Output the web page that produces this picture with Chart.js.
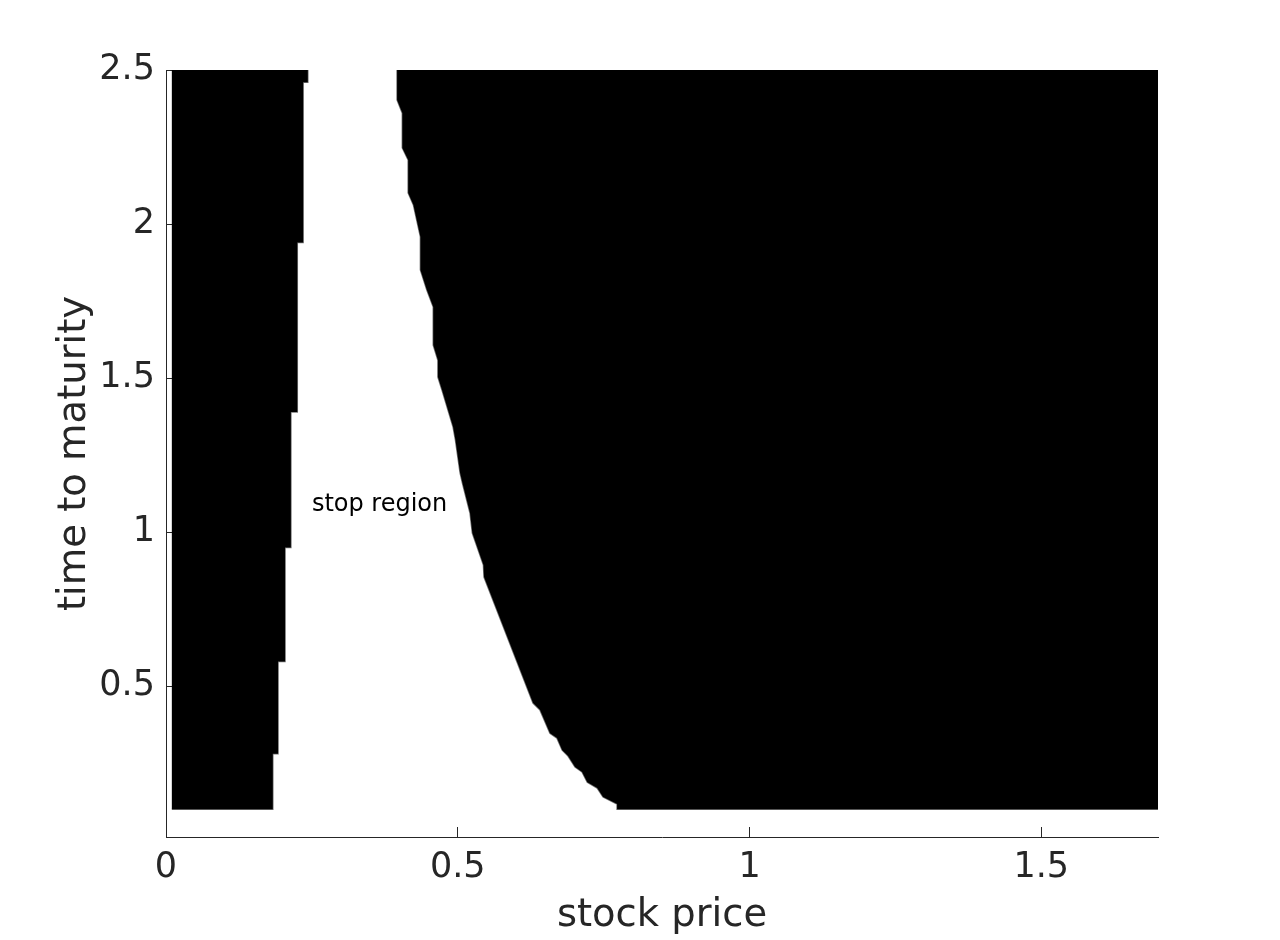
<!DOCTYPE html>
<html>
<head>
<meta charset="utf-8">
<title>Stop region</title>
<script src="https://cdn.jsdelivr.net/npm/chart.js@4/dist/chart.umd.min.js"></script>
<style>
    html, body { margin: 0; padding: 0; background: #fff; }
    #wrap { width: 1280px; height: 940px; }
</style>
</head>
<body>
<div id="wrap"><canvas id="stopChart" width="1280" height="940"></canvas></div>
<script>
// extent of the computed grid (stock price / time to maturity)
const gridS = [0.01, 1.7];
const gridT = [0.1, 2.5];

// lower edge of the stop region, bottom -> top
const leftEdgeT = [0.1, 0.28, 0.28, 0.58, 0.58, 0.95, 0.95, 1.39, 1.39, 1.94, 1.94, 2.46, 2.46, 2.5];
const leftEdgeS = [0.183, 0.183, 0.192, 0.192, 0.204, 0.204, 0.214, 0.214, 0.225, 0.225, 0.235, 0.235, 0.243, 0.243];

// upper edge of the stop region, top -> bottom
const rightEdgeT = [2.5, 2.403, 2.36, 2.247, 2.208, 2.101, 2.062, 1.958, 1.851, 1.786,
    1.731, 1.607, 1.558, 1.503, 1.461, 1.341, 1.299, 1.192, 1.159, 1.062,
    0.997, 0.893, 0.854, 0.445, 0.422, 0.347, 0.331, 0.292, 0.273, 0.237,
    0.221, 0.188, 0.169, 0.14, 0.117, 0.1];
const rightEdgeS = [0.396, 0.396, 0.405, 0.405, 0.415, 0.415, 0.424, 0.436, 0.436, 0.447,
    0.458, 0.458, 0.466, 0.466, 0.473, 0.492, 0.496, 0.504, 0.508, 0.521,
    0.525, 0.544, 0.545, 0.629, 0.641, 0.658, 0.670, 0.679, 0.689, 0.701,
    0.713, 0.722, 0.739, 0.749, 0.773, 0.773];

// axes
const xTicks = [0, 0.5, 1, 1.5];
const xTickLabels = ['0', '0.5', '1', '1.5'];
const yTicks = [0.5, 1, 1.5, 2, 2.5];
const yTickLabels = ['0.5', '1', '1.5', '2', '2.5'];
const xRange = [0, 1.7];
const yRange = [0.01, 2.5];

const regionLabel = 'stop region';
const regionLabelAt = [0.25, 1.09];

document.addEventListener('DOMContentLoaded', function() {
    const axisColor = '#262626';
    const fontFamily = '"DejaVu Sans", sans-serif';

    // continue region left of the stop band
    const leftPoly = [{ x: gridS[0], y: gridT[0] }];
    for (let i = 0; i < leftEdgeT.length; i++) {
        leftPoly.push({ x: leftEdgeS[i], y: leftEdgeT[i] });
    }
    leftPoly.push({ x: gridS[0], y: gridT[1] });

    // continue region right of the stop band
    const rightPoly = [{ x: gridS[1], y: gridT[1] }];
    for (let i = 0; i < rightEdgeT.length; i++) {
        rightPoly.push({ x: rightEdgeS[i], y: rightEdgeT[i] });
    }
    rightPoly.push({ x: gridS[1], y: gridT[0] });

    const regionStyle = {
        backgroundColor: '#000',
        borderColor: 'rgba(0,0,0,0.55)',
        borderWidth: 1.5,
        pointRadius: 0,
        tension: 0,
        fill: 'shape'
    };

    // text label inside the white band
    const textPlugin = {
        id: 'regionText',
        afterDatasetsDraw(chart) {
            const ctx = chart.ctx;
            const px = chart.scales.x.getPixelForValue(regionLabelAt[0]);
            const py = chart.scales.y.getPixelForValue(regionLabelAt[1]);
            ctx.save();
            ctx.font = '24px ' + fontFamily;
            ctx.fillStyle = '#000';
            ctx.textAlign = 'left';
            ctx.textBaseline = 'middle';
            ctx.fillText(regionLabel, px, py);
            ctx.restore();
        }
    };

    const ctx = document.getElementById('stopChart').getContext('2d');
    new Chart(ctx, {
        type: 'line',
        data: {
            datasets: [
                Object.assign({ label: 'continue (low)', data: leftPoly }, regionStyle),
                Object.assign({ label: 'continue (high)', data: rightPoly }, regionStyle)
            ]
        },
        options: {
            responsive: false,
            animation: false,
            layout: { padding: { top: 70, right: 122, bottom: 0, left: 0 } },
            plugins: {
                legend: { display: false },
                tooltip: { enabled: false }
            },
            scales: {
                x: {
                    type: 'linear',
                    min: xRange[0],
                    max: xRange[1],
                    afterBuildTicks: s => { s.ticks = xTicks.map(v => ({ value: v })); },
                    afterFit: s => { s.height = 103; },
                    grid: { drawOnChartArea: false, tickLength: -10, tickColor: axisColor, lineWidth: 1 },
                    border: { display: true, color: axisColor, width: 1 },
                    ticks: {
                        padding: 23,
                        color: axisColor,
                        font: { family: fontFamily, size: 35, lineHeight: 1 },
                        maxRotation: 0,
                        callback: (v, i) => xTickLabels[i]
                    },
                    title: {
                        display: true,
                        text: 'stock price',
                        color: axisColor,
                        font: { family: fontFamily, size: 38.5, lineHeight: 1 },
                        padding: { top: 0, bottom: 5 }
                    }
                },
                y: {
                    type: 'linear',
                    min: yRange[0],
                    max: yRange[1],
                    afterBuildTicks: s => { s.ticks = yTicks.map(v => ({ value: v })); },
                    afterFit: s => { s.width = 166; },
                    grid: { drawOnChartArea: false, tickLength: -10, tickColor: axisColor, lineWidth: 1 },
                    border: { display: true, color: axisColor, width: 1 },
                    ticks: {
                        padding: 21,
                        color: axisColor,
                        font: { family: fontFamily, size: 35, lineHeight: 1 },
                        callback: (v, i) => yTickLabels[i]
                    },
                    title: {
                        display: true,
                        text: 'time to maturity',
                        color: axisColor,
                        font: { family: fontFamily, size: 38.5, lineHeight: 1 },
                        padding: { top: 56, bottom: 0 }
                    }
                }
            }
        },
        plugins: [textPlugin]
    });
});
</script>
</body>
</html>
